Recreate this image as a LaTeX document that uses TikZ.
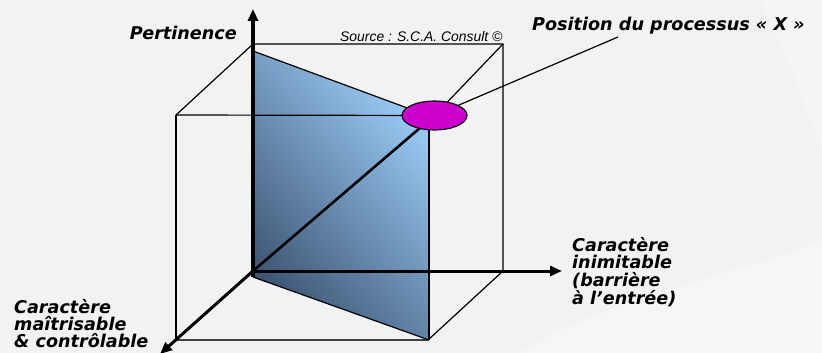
\documentclass[tikz,border=0pt]{standalone}
\usepackage{fontspec}
\setmainfont{DejaVu Sans}
\newfontfamily\srcfont{Liberation Sans}
\usetikzlibrary{arrows.meta,shapes.geometric}
\definecolor{bg}{HTML}{F1F2F1}
\definecolor{planedark}{HTML}{3E5573}
\definecolor{planelight}{HTML}{9CCDF8}
\definecolor{posfill}{HTML}{CC00CC}
\tikzset{
  cubeline/.style={draw=black, line width=1.2pt},
  axisline/.style={draw=black, line width=3pt, -{Triangle[length=12pt,width=10pt]}},
  thickline/.style={draw=black, line width=2.6pt},
  lbl/.style={font=\fontsize{17.6}{17.6}\selectfont\bfseries\itshape, inner sep=0pt, align=left},
  srclbl/.style={font=\srcfont\fontsize{13.9}{14}\selectfont\itshape, inner sep=0pt},
}
\begin{document}
\begin{tikzpicture}[x=1pt,y=-1pt]
\fill[bg] (0,0) rectangle (822,353);
\useasboundingbox (0,0) rectangle (822,353);
% soft background swirls
\fill[white, opacity=0.35] (520,353) .. controls (600,300) and (720,280) .. (822,240) -- (822,353) -- cycle;
\fill[white, opacity=0.3] (760,0) .. controls (790,60) and (810,120) .. (822,150) -- (822,0) -- cycle;

% cube corners
\coordinate (O) at (253,271);
\coordinate (B1) at (253,44);
\coordinate (B2) at (503,44);
\coordinate (B3) at (503,271);
\coordinate (F1) at (176,115);
\coordinate (F3) at (428,340);
\coordinate (F4) at (176,340);
% plane corners
\coordinate (P1) at (253,51);
\coordinate (P2) at (429,116);
\coordinate (P3) at (429,340);
\coordinate (P4) at (253,277);
% axis tips
\coordinate (ztip) at (253,9);
\coordinate (xtip) at (562,271);
\coordinate (ytip) at (160,354);
\coordinate (lead) at (618,37);

% ellipse node position
\path (434.5,115.5) node[ellipse, minimum width=65pt, minimum height=29pt, inner sep=0pt] (pos) {};

% thin cube lines
\draw[cubeline] (F1) -- (B1) -- (B2) -- (B3);
\draw[cubeline] (F1) -- (F4);
\draw[draw=black!75, line width=1.8pt] (F4) -- (F3);
\draw[cubeline] (B3) -- (F3);

% plane
\shade[top color=planelight, bottom color=planedark, shading angle=-50] (P1) -- (P2) -- (P3) -- (P4) -- cycle;
\draw[line width=1.2pt] (P1) -- (P2);
\draw[line width=1.2pt] (P4) -- (P3);
\draw[thickline] (P2) -- (P3);

% lines to the ellipse
\draw[cubeline] (F1) -- (pos);
\draw[cubeline] (B2) -- (pos);
\draw[cubeline] (pos) -- (lead);

% axes
\draw[axisline, line width=3.5pt] (P4) -- (ztip);
\draw[axisline] (O) -- (xtip);
\draw[axisline] (O) -- (ytip);
\draw[thickline] (O) -- (pos.center);

% ellipse
\node[ellipse, draw=black, line width=1.1pt, fill=posfill, minimum width=65pt, minimum height=29pt, inner sep=0pt] at (pos.center) {};

% labels
\node[lbl, anchor=base east] (tz) at (237,40) {Pertinence};
\node[srclbl, anchor=base west] (src) at (340,41.5) {Source : S.C.A. Consult ©};
\node[lbl, anchor=base west] (tpos) at (532,31) {Position du processus « X »};
\node[lbl, anchor=north west] (tx) at (572,237) {Caractère\\inimitable\\(barrière\\à l’entrée)};
\node[lbl, anchor=north west, font=\fontsize{17.6}{17}\selectfont\bfseries\itshape] (ty) at (14,299) {Caractère\\maîtrisable\\\& contrôlable};
\end{tikzpicture}
\end{document}
